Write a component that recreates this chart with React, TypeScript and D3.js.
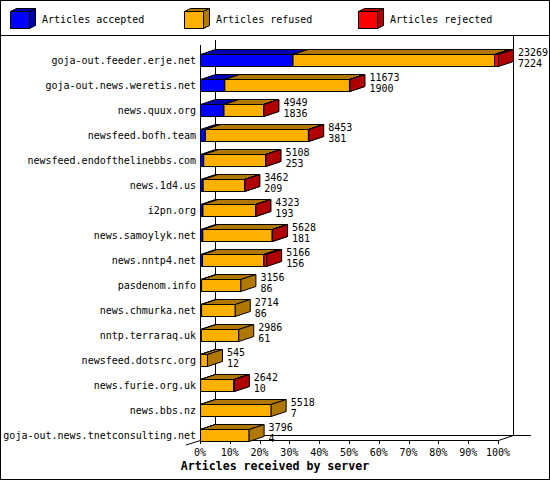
import * as d3 from "d3";

const servers = [
  "goja-out.feeder.erje.net",
  "goja-out.news.weretis.net",
  "news.quux.org",
  "newsfeed.bofh.team",
  "newsfeed.endofthelinebbs.com",
  "news.1d4.us",
  "i2pn.org",
  "news.samoylyk.net",
  "news.nntp4.net",
  "pasdenom.info",
  "news.chmurka.net",
  "nntp.terraraq.uk",
  "newsfeed.dotsrc.org",
  "news.furie.org.uk",
  "news.bbs.nz",
  "goja-out.news.tnetconsulting.net",
];
const accepted = [7224, 1900, 1836, 381, 253, 209, 193, 181, 156, 86, 86, 61, 12, 10, 7, 4];
const refused = [15735, 9733, 3093, 8047, 4840, 3233, 4115, 5422, 4800, 3070, 2628, 2925, 533, 2602, 5511, 3792];
const rejected = [310, 40, 20, 25, 15, 20, 15, 25, 210, 0, 0, 0, 0, 30, 0, 0];

const seriesNames = ["Articles accepted", "Articles refused", "Articles rejected"];
const tickPercents = [0, 10, 20, 30, 40, 50, 60, 70, 80, 90, 100];

const colors = ["#0000ff", "#ffb000", "#ff0000"];
const darks = ["#0000b0", "#b07800", "#b00000"];

const W = 550;
const H = 480;
const DX = 15;
const DY = 5;
const FONT = "'DejaVu Sans Mono', monospace";

// one 3D block: front face, top face, right side face
const box = (a: number, b: number, top: number, h: number, fill: string, dark: string,
  dx: number, dy: number, key: string) => (
  <g key={key} stroke="#000" strokeWidth={1}>
    <rect x={a} y={top} width={b - a} height={h} fill={fill} />
    <polygon points={`${a},${top} ${b},${top} ${b + dx},${top - dy} ${a + dx},${top - dy}`} fill={dark} />
    <polygon points={`${b},${top} ${b + dx},${top - dy} ${b + dx},${top + h - dy} ${b},${top + h}`} fill={dark} />
  </g>
);

export default function App() {
  const totals = servers.map((_, i) => accepted[i] + refused[i] + rejected[i]);
  const maxTotal = d3.max(totals) as number;

  const x = d3.scaleLinear().domain([0, maxTotal]).range([200, 498]);
  const xp = d3.scaleLinear().domain([0, 100]).range([200, 498]);
  const y = d3.scaleBand<string>()
    .domain(servers)
    .range([47, 447])
    .paddingInner(0.52)
    .paddingOuter(0.26);

  const x0 = 200, x1 = 498, yFront = 440;

  return (
    <svg width={W} height={H} style={{ position: "absolute", left: 0, top: 0, background: "#fff" }}
      fontFamily={FONT}>
      <rect x={0.5} y={0.5} width={W - 1} height={H - 1} fill="#fff" stroke="#000" />
      <line x1={0} x2={W} y1={35.5} y2={35.5} stroke="#000" />

      {/* legend */}
      {seriesNames.map((name, i) => {
        const lx = 10 + i * 174;
        return (
          <g key={name}>
            {box(lx + 0.5, lx + 19.5, 11.5, 17, colors[i], darks[i], 6, 3, "lg" + i)}
            <text x={lx + 32} y={23} fontSize={10} fill="#000">{name}</text>
          </g>
        );
      })}

      {/* walls and floor */}
      <g stroke="#000" strokeWidth={1} shapeRendering="crispEdges">
        <line x1={x0 + 0.5} x2={x0 + 0.5} y1={45} y2={yFront} />
        <line x1={x0 + DX + 0.5} x2={x0 + DX + 0.5} y1={40} y2={yFront - DY} />
        <line x1={x1 + DX + 0.5} x2={x1 + DX + 0.5} y1={35} y2={yFront - DY} />
        <line x1={x0 + DX} x2={x1 + DX + 18} y1={yFront - DY + 0.5} y2={yFront - DY + 0.5} />
        <line x1={x0} x2={x1 + 1} y1={yFront + 0.5} y2={yFront + 0.5} />
      </g>
      <line x1={x1 + 0.5} y1={yFront + 0.5} x2={x1 + DX + 0.5} y2={yFront - DY + 0.5} stroke="#000" />
      <line x1={x0 - 14} y1={yFront + 5} x2={x0 + 0.5} y2={yFront + 0.5} stroke="#000" />

      {/* x ticks */}
      {tickPercents.map((p) => (
        <g key={p}>
          <line x1={Math.round(xp(p)) + 0.5} x2={Math.round(xp(p)) + 0.5} y1={yFront} y2={yFront + 4}
            stroke="#000" shapeRendering="crispEdges" />
          <text x={xp(p)} y={456} fontSize={10} textAnchor="middle" fill="#000">{p}%</text>
        </g>
      ))}
      <text x={275} y={470} fontSize={11.6} fontWeight="bold" textAnchor="middle" fill="#000">
        Articles received by server
      </text>

      {/* bars */}
      {servers.map((s, i) => {
        const top = Math.round(y(s) as number) + 0.5;
        const h = y.bandwidth();
        const vals = [accepted[i], refused[i], rejected[i]];
        let cum = 0;
        const parts = vals.map((v, k) => {
          if (v <= 0) return null;
          const a = x(cum);
          cum += v;
          const b = x(cum);
          return box(a + 0.5, b + 0.5, top, h, colors[k], darks[k], DX, DY, s + k);
        });
        const cy = top + h / 2;
        const lx = x(totals[i]) + DX + 5;
        return (
          <g key={s}>
            <text x={196} y={cy + 3} fontSize={10} textAnchor="end" fill="#000">{s}</text>
            {parts}
            <text x={lx} y={cy - 5} fontSize={10} fill="#000">{totals[i]}</text>
            <text x={lx} y={cy + 6} fontSize={10} fill="#000">{accepted[i]}</text>
          </g>
        );
      })}
    </svg>
  );
}
